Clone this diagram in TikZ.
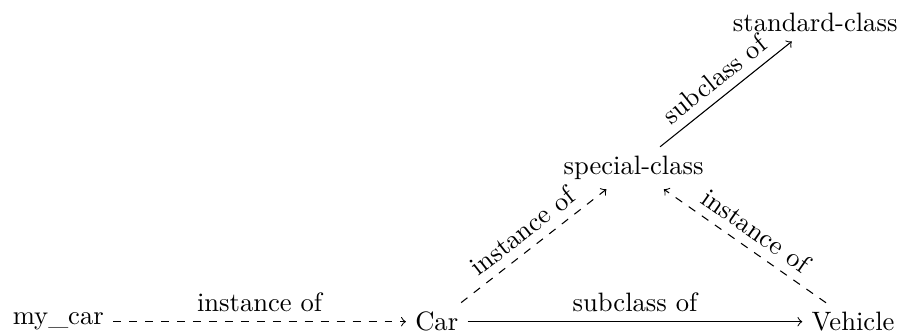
\documentclass[tikz,border=0pt]{standalone}
\begin{document}
\begin{tikzpicture}[inst/.style={->,dashed},sub/.style={->}]
\useasboundingbox (-5.77,-0.12) rectangle (6.12,4.25);
\node (M) at (-5,0) {my\_car};
\node (C) at (0,0) {Car};
\node (V) at (5.5,0) {Vehicle};
\node (S) at (2.6,2.03) {special-class};
\node (T) at (5,3.95) {standard-class};
\path
  (M) edge [inst] node[above] {instance of} (C)
  (C) edge [sub] node[above] {subclass of} (V)
  (C) edge [inst] node[above,sloped] {instance of} (S)
  (V) edge [inst] node[above,sloped] {instance of} (S)
  (S) edge [sub] node[above,sloped] {subclass of} (T)
;
\end{tikzpicture}
\end{document}
